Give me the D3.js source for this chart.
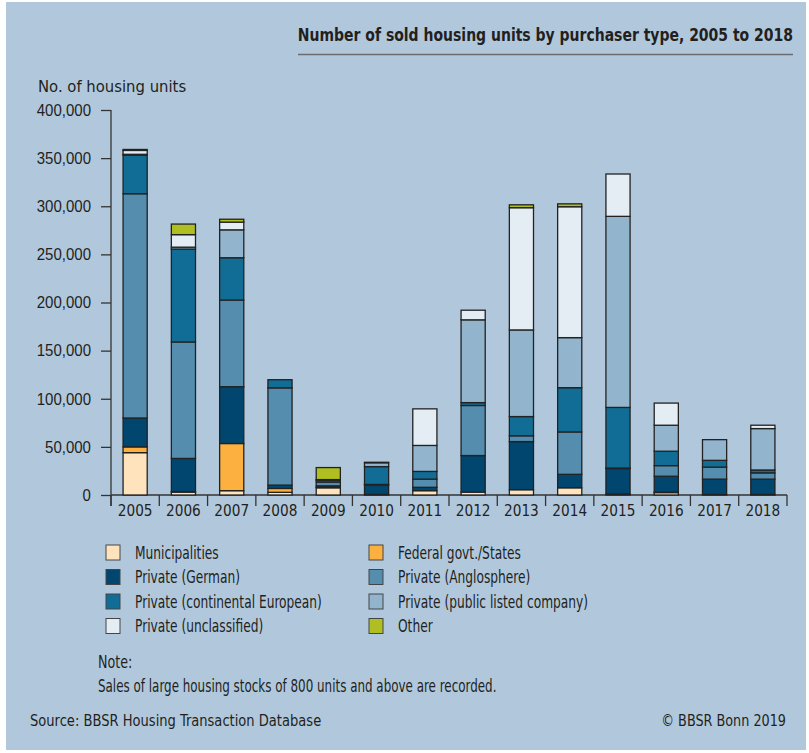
<!DOCTYPE html>
<html>
<head>
    <meta charset="utf-8">
    <title>Sold housing units by purchaser type</title>
    <style>
        body {
            margin: 0;
            background: #fff;
            font-family: "Liberation Sans Narrow", "DejaVu Sans Condensed", sans-serif;
        }

        text {
            fill: #231f20;
        }

        .axis path, .axis line {
            stroke: #333;
            stroke-width: 1.3;
        }

        .seg {
            stroke: #222;
            stroke-width: 1.3;
        }
    </style>
    <script src="https://d3js.org/d3.v7.min.js"></script>
</head>

<body>
<script type="text/javascript">
    var years = ["2005", "2006", "2007", "2008", "2009", "2010", "2011",
        "2012", "2013", "2014", "2015", "2016", "2017", "2018"];

    var seriesNames = ["Municipalities", "Federal govt./States", "Private (German)",
        "Private (Anglosphere)", "Private (continental European)",
        "Private (public listed company)", "Private (unclassified)", "Other"];

    // values per series, one per year (units)
    var municipalities = [44000, 3000, 4500, 2800, 7500, 500, 4500, 3000, 5500, 7500, 1000, 2500, 500, 500];
    var federal        = [6000, 500, 49000, 4000, 500, 0, 0, 0, 0, 0, 0, 500, 0, 0];
    var german         = [30000, 34500, 59000, 3500, 1500, 10000, 3500, 38000, 50000, 14000, 26500, 16500, 16000, 16000];
    var anglosphere    = [233000, 121000, 90000, 101000, 4000, 500, 8500, 52000, 6000, 44000, 500, 11000, 12500, 6500];
    var continental    = [40000, 96500, 44000, 8500, 2000, 18500, 8000, 3000, 20000, 46000, 63000, 15000, 7000, 3000];
    var publicListed   = [1000, 2000, 29000, 0, 0, 4000, 27000, 86000, 90000, 52000, 198500, 27000, 21500, 43000];
    var unclassified   = [4000, 13000, 8000, 0, 500, 500, 38000, 10000, 127000, 136000, 44000, 23000, 0, 3500];
    var other          = [1000, 11000, 3000, 0, 12500, 0, 0, 0, 3000, 3000, 0, 0, 0, 0];

    var yTicks = [0, 50000, 100000, 150000, 200000, 250000, 300000, 350000, 400000];

    var colors = ["#fee3bd", "#fbb040", "#00466e", "#558daf", "#116d95", "#92b5cd", "#e3edf3", "#afbe20"];

    var allSeries = [municipalities, federal, german, anglosphere, continental,
        publicListed, unclassified, other];

    var width = 809, height = 753,
        margins = {top: 110, left: 111, right: 22, bottom: 258};

    var rows = years.map(function (y, i) {
        var r = {year: y};
        seriesNames.forEach(function (s, j) {
            r[s] = allSeries[j][i];
        });
        return r;
    });

    var layers = d3.stack().keys(seriesNames)(rows);

    var svg = d3.select("body").append("svg")
        .attr("width", width)
        .attr("height", height);

    svg.append("rect")
        .attr("x", 6)
        .attr("y", 2)
        .attr("width", 800)
        .attr("height", 748)
        .attr("fill", "#b1c8dc");

    // text squeezed horizontally to get the condensed look
    function addText(parent, x, y, str, size, sx, anchor, weight) {
        return parent.append("text")
            .attr("transform", "translate(" + x + "," + y + ") scale(" + sx + ",1)")
            .attr("text-anchor", anchor || "start")
            .style("font-size", size + "px")
            .style("font-weight", weight || "normal")
            .text(str);
    }

    var x = d3.scaleBand()
        .domain(years)
        .range([margins.left, width - margins.right])
        .paddingInner(0.5)
        .paddingOuter(0.25);

    var y = d3.scaleLinear()
        .domain([0, 400000])
        .range([height - margins.bottom, margins.top]);

    // title
    addText(svg, 793, 41, "Number of sold housing units by purchaser type, 2005 to 2018", 17, 0.915, "end", "bold");

    svg.append("line")
        .attr("x1", 298)
        .attr("x2", 793)
        .attr("y1", 54.5)
        .attr("y2", 54.5)
        .attr("stroke", "#6d6e71")
        .attr("stroke-width", 1.3);

    addText(svg, 38, 92, "No. of housing units", 16.5, 1, "start");

    // y axis
    var yAxis = d3.axisLeft(y)
        .tickValues(yTicks)
        .tickSize(10)
        .tickPadding(12)
        .tickFormat(d3.format(","));

    var yG = svg.append("g")
        .attr("class", "axis")
        .attr("transform", "translate(" + margins.left + ",0)")
        .call(yAxis);
    yG.select(".domain").remove();
    yG.append("line")
        .attr("x1", 0).attr("x2", 0)
        .attr("y1", y(400000)).attr("y2", y(0) + 11);
    yG.selectAll("text")
        .attr("transform", "scale(0.91,1)")
        .style("font-size", "16.5px")
        .style("fill", "#231f20");

    // x axis: baseline, boundary ticks and labels
    var xG = svg.append("g").attr("class", "axis");
    var base = y(0);
    xG.append("line")
        .attr("x1", margins.left)
        .attr("x2", width - margins.right)
        .attr("y1", base)
        .attr("y2", base);

    var step = x.step();
    var bounds = years.map(function (d) {
        return x(d) - x.paddingOuter() * step;
    });
    bounds.push(width - margins.right);
    xG.selectAll(".bound")
        .data(bounds)
        .enter()
        .append("line")
        .attr("class", "bound")
        .attr("x1", function (d) { return d; })
        .attr("x2", function (d) { return d; })
        .attr("y1", base)
        .attr("y2", base + 11);

    years.forEach(function (d) {
        addText(xG, x(d) + x.bandwidth() / 2, base + 21, d, 16, 0.95, "middle");
    });

    // bars
    var barsG = svg.append("g");
    layers.forEach(function (layer, i) {
        barsG.selectAll(".s" + i)
            .data(layer.filter(function (d) { return d[1] > d[0]; }))
            .enter()
            .append("rect")
            .attr("class", "seg s" + i)
            .attr("x", function (d) { return x(d.data.year); })
            .attr("width", x.bandwidth())
            .attr("y", function (d) { return y(d[1]); })
            .attr("height", function (d) { return y(d[0]) - y(d[1]); })
            .attr("fill", colors[i]);
    });

    // legend
    var legend = svg.append("g");
    seriesNames.forEach(function (s, i) {
        var col = i % 2, row = Math.floor(i / 2);
        var g = legend.append("g")
            .attr("transform", "translate(" + (106 + col * 263) + "," + (545 + row * 24.5) + ")");
        g.append("rect")
            .attr("width", 14)
            .attr("height", 15)
            .attr("fill", colors[i])
            .attr("stroke", "#444")
            .attr("stroke-width", 1);
        addText(g, 29, 13.5, s, 17, 0.8, "start");
    });

    addText(svg, 98, 668, "Note:", 17, 0.83, "start");
    addText(svg, 98, 692, "Sales of large housing stocks of 800 units and above are recorded.", 17, 0.78, "start");

    addText(svg, 30, 726, "Source: BBSR Housing Transaction Database", 15, 0.97, "start");
    addText(svg, 786, 726, "\u00a9 BBSR Bonn 2019", 15, 0.95, "end");
</script>
</body>
</html>
